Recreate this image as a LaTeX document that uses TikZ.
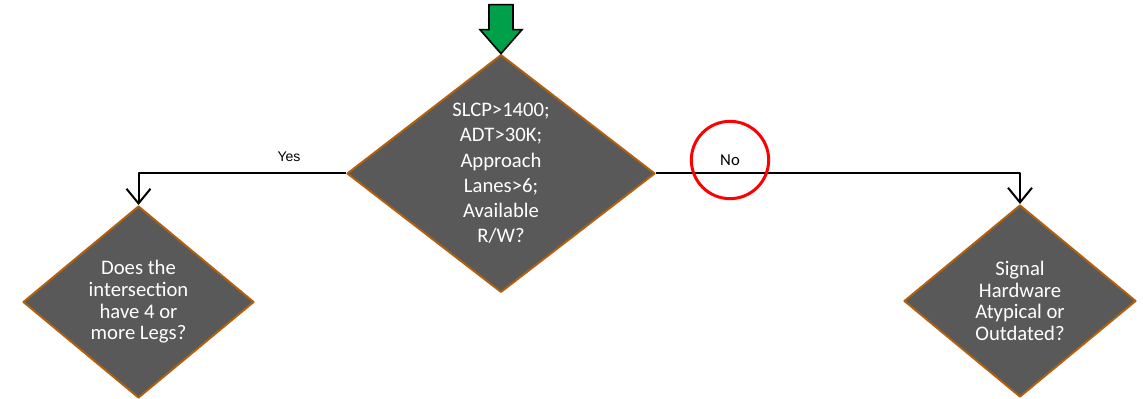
\documentclass[tikz,border=0pt]{standalone}
\usepackage{fontspec}
\setmainfont{Carlito}
\newfontfamily\arialfont{Liberation Sans}
\usetikzlibrary{arrows.meta,shapes.geometric,positioning}
\definecolor{boxgray}{HTML}{595959}
\definecolor{boxedge}{HTML}{B0600F}
\definecolor{startgreen}{HTML}{00A04A}
\definecolor{markred}{HTML}{FF0000}
\tikzset{
  every picture/.style={line join=round, line cap=round},
  decision/.style={diamond, draw=boxedge, line width=1.5pt, fill=boxgray, text=white,
    align=center, inner sep=0pt, font=\fontsize{15.5}{18.9}\selectfont},
  small decision/.style={decision, font=\fontsize{15.5}{16.3}\selectfont},
  flow/.style={line width=1.5pt, line cap=butt, -{Straight Barb[length=11pt,width=18pt]}},
}
\begin{document}
\begin{tikzpicture}[x=0.75pt,y=-0.75pt]
\useasboundingbox (0,0) rectangle (1143,399);
% decisions
\node[decision, minimum width=231pt, minimum height=177.75pt] (q1) at (501,173.5)
  {SLCP>1400;\\ADT>30K;\\Approach\\Lanes>6;\\Available\\R/W?};
\node[small decision, minimum width=173.25pt, minimum height=144pt] (q2) at (138.5,302)
  {Does the\\intersection\\have 4 or\\more Legs?};
\node[small decision, minimum width=174pt, minimum height=144pt] (q3) at (1020,301)
  {Signal\\Hardware\\Atypical or\\Outdated?};
% start arrow
\coordinate (start) at (q1.north);
\draw[fill=startgreen, line width=1.2pt, line join=miter] (start) -- ++(-21,-24) -- ++(9,0) -- ++(0,-25)
  -- ++(24,0) -- ++(0,25) -- ++(9,0) -- cycle;
% branches
\draw[flow] (q1.west) -| (q2.north);
\draw[flow] (q1.east) -| (q3.north);
\node[font=\arialfont\fontsize{10.5}{12}\selectfont] (yes) at (289,157) {Yes};
\node[font=\fontsize{12.5}{14}\selectfont] (no) at (730,160) {No};
\draw[markred, line width=2.25pt] (no) circle[radius=29pt];
\end{tikzpicture}
\end{document}
